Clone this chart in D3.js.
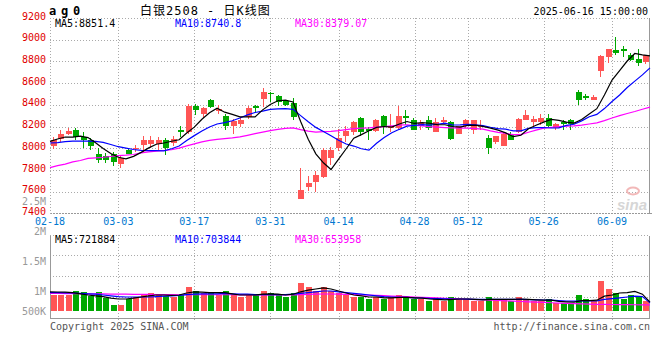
<!DOCTYPE html>
<html>
<head>
<meta charset="utf-8">
<script src="https://cdn.jsdelivr.net/npm/d3@7"></script>
<style>
  body { margin: 0; background: #fff; }
  svg { display: block; font-family: "DejaVu Sans Mono", monospace; }
</style>
</head>
<body>
<div id="chart"></div>
<script>
// trading days shown on the chart (MM-DD)
const dates = [
  '02-18','02-19','02-20','02-21','02-24','02-25','02-26','02-27','02-28',
  '03-03','03-04','03-05','03-06','03-07','03-10','03-11','03-12','03-13','03-14',
  '03-17','03-18','03-19','03-20','03-21','03-24','03-25','03-26','03-27','03-28','03-31',
  '04-01','04-02','04-03','04-07','04-08','04-09','04-10','04-11','04-14','04-15','04-16',
  '04-17','04-18','04-21','04-22','04-23','04-24','04-25','04-28','04-29','04-30',
  '05-06','05-07','05-08','05-09','05-12','05-13','05-14','05-15','05-16','05-19','05-20',
  '05-21','05-22','05-23','05-26','05-27','05-28','05-29','05-30',
  '06-03','06-04','06-05','06-06','06-09','06-10','06-11','06-12','06-13','06-16'
];

const open = [
  8018,8086,8135,8171,8104,8080,7951,7926,7945,7853,7982,7994,8031,8037,8043,8080,
  8049,8165,8147,8392,8312,8441,8343,8300,8202,8226,8288,8392,8453,8508,8478,8435,
  8416,7535,7645,7688,7737,7908,8006,8110,8153,8275,8178,8159,8294,8184,8190,8300,
  8263,8208,8263,8153,8239,8239,8135,8202,8165,8196,8098,8055,8018,8129,8153,8263,
  8239,8245,8282,8184,8245,8257,8520,8484,8447,8710,8845,8906,8918,8863,8827,8796
];
const high = [
  8104,8165,8184,8190,8147,8098,8000,7957,7969,7933,7994,8030,8110,8110,8104,8092,
  8110,8202,8410,8410,8377,8453,8398,8312,8269,8288,8386,8398,8551,8520,8490,8447,
  8465,7822,7749,7792,8006,8012,8178,8202,8251,8288,8196,8269,8306,8318,8386,8355,
  8275,8263,8300,8275,8288,8251,8208,8269,8263,8257,8122,8116,8147,8147,8276,8349,
  8294,8312,8318,8233,8257,8269,8533,8502,8490,8857,8918,9029,8943,8876,8918,8863
];
const low = [
  7994,8055,8122,8080,8006,7982,7865,7865,7841,7816,7945,7963,7969,8006,7988,7939,
  8018,8104,8128,8306,8275,8373,8312,8165,8135,8196,8269,8324,8380,8429,8386,8386,
  8257,7535,7608,7596,7730,7847,7975,8061,8122,8110,8073,8153,8135,8153,8171,8214,
  8165,8171,8171,8153,8227,8080,8129,8184,8129,8165,7945,8043,8018,8073,8141,8257,
  8202,8214,8196,8171,8165,8171,8398,8447,8447,8661,8790,8857,8845,8802,8759,8777
];
const close = [
  8080,8135,8159,8104,8080,8018,7896,7896,7871,7908,7951,8006,8080,8074,8080,8006,
  8086,8147,8386,8349,8373,8380,8361,8202,8251,8257,8373,8367,8520,8502,8429,8398,
  8288,7620,7682,7755,7988,7982,8098,8159,8239,8153,8159,8257,8196,8208,8300,8275,
  8165,8233,8184,8239,8263,8086,8202,8263,8257,8202,8006,8110,8135,8080,8269,8306,
  8269,8282,8208,8226,8220,8227,8447,8459,8471,8851,8918,8882,8900,8814,8790,8857
];

// moving averages as plotted
const ma5 = [
  8064,8086,8104,8104,8112,8099,8051,7999,7952,7918,7904,7926,7963,8004,8038,8049,
  8065,8079,8141,8195,8268,8327,8370,8333,8313,8290,8289,8290,8354,8404,8438,8443,
  8427,8247,8083,7949,7867,7805,7901,7996,8093,8126,8162,8193,8201,8195,8224,8247,
  8229,8236,8231,8219,8217,8201,8195,8211,8214,8202,8186,8168,8142,8107,8120,8180,
  8212,8241,8267,8258,8241,8233,8266,8316,8365,8491,8629,8716,8804,8873,8861,8851.4
];
const ma10 = [
  8049,8052,8061,8067,8067,8067,8064,8055,8035,8015,8002,7989,7981,7978,7978,7977,
  7996,8021,8072,8117,8159,8196,8224,8237,8254,8279,8308,8330,8343,8359,8364,8366,
  8359,8301,8244,8193,8155,8116,8074,8040,8021,7996,7984,8047,8099,8144,8175,8204,
  8211,8219,8213,8222,8232,8215,8216,8221,8217,8209,8194,8181,8176,8160,8161,8183,
  8190,8192,8187,8189,8211,8222,8253,8291,8312,8366,8431,8491,8560,8619,8676,8740.8
];
const ma30 = [
  7822,7841,7855,7875,7888,7908,7913,7918,7925,7933,7937,7943,7958,7967,7974,7980,
  7987,8002,8022,8041,8060,8074,8082,8089,8096,8105,8120,8135,8150,8163,8175,8184,
  8188,8172,8159,8150,8153,8156,8163,8172,8181,8186,8189,8195,8199,8206,8213,8217,
  8210,8206,8199,8195,8191,8188,8186,8186,8182,8177,8160,8147,8137,8126,8126,8148,
  8168,8186,8193,8201,8205,8207,8214,8224,8235,8255,8279,8301,8321,8339,8360,8379.07
];

// volume (lots) and its averages
const volume = [
  900000,900000,900000,1000000,970000,870000,970000,830000,650000,650000,800000,850000,
  900000,950000,900000,880000,850000,900000,1100000,1000000,950000,950000,900000,1000000,
  900000,850000,900000,900000,1000000,950000,900000,850000,950000,1200000,1100000,1000000,
  1100000,1000000,950000,900000,850000,850000,800000,850000,800000,850000,900000,850000,
  800000,800000,750000,800000,750000,850000,800000,800000,750000,750000,850000,800000,
  800000,750000,850000,800000,750000,750000,800000,700000,700000,700000,900000,800000,
  750000,1250000,1050000,950000,800000,900000,850000,750000
];
const volMa5 = [
  980000,975000,970000,960000,930000,900000,880000,860000,820000,800000,800000,820000,
  850000,880000,900000,900000,890000,900000,950000,980000,970000,960000,960000,960000,
  930000,900000,900000,900000,920000,930000,920000,900000,920000,980000,1020000,1050000,
  1080000,1050000,1000000,950000,900000,880000,850000,850000,830000,830000,840000,840000,
  830000,820000,800000,790000,780000,790000,800000,800000,790000,780000,790000,790000,
  790000,790000,800000,790000,780000,770000,770000,740000,730000,720000,760000,760000,
  770000,870000,900000,950000,960000,990000,920000,721884
];
const volMa10 = [
  960000,960000,955000,950000,940000,930000,920000,900000,880000,860000,850000,850000,
  850000,850000,860000,870000,880000,890000,910000,920000,930000,930000,930000,940000,
  930000,920000,920000,910000,910000,910000,910000,910000,920000,940000,960000,980000,
  1000000,1000000,980000,960000,940000,920000,900000,880000,860000,850000,840000,840000,
  830000,825000,815000,810000,805000,800000,800000,795000,790000,790000,790000,790000,
  790000,790000,790000,785000,780000,775000,770000,760000,750000,745000,750000,750000,
  755000,790000,810000,830000,850000,870000,860000,703844
];
const volMa30 = [
  940000,938000,936000,934000,932000,930000,928000,926000,924000,922000,920000,918000,
  916000,914000,912000,910000,908000,906000,906000,906000,906000,906000,906000,906000,
  906000,905000,904000,903000,902000,902000,902000,902000,904000,910000,915000,920000,
  925000,925000,922000,918000,912000,905000,898000,890000,882000,874000,866000,858000,
  850000,842000,834000,826000,818000,810000,802000,794000,786000,778000,770000,762000,
  754000,746000,738000,730000,722000,714000,706000,698000,690000,682000,676000,670000,
  666000,664000,662000,660000,658000,656000,655000,653958
];

const priceTicks = [9200, 9000, 8800, 8600, 8400, 8200, 8000, 7800, 7600, 7400];
const dateTicks = ['02-18', '03-03', '03-17', '03-31', '04-14', '04-28', '05-12', '05-26', '06-09'];
const volTicks = [2500000, 2000000, 1500000, 1000000, 500000];
const volTickLabels = ['2.5M', '2M', '1.5M', '1M', '500K'];

const UP = '#ff5555', DOWN = '#00a800';
const GRID = '#aaa';

class KChart {

  constructor(opts) {
    this.element = opts.element;
    this.n = dates.length;
    this.draw();
  }

  draw() {
    this.width = 660;
    this.height = 360;
    // plot frame, price pane + volume pane
    this.left = 50;
    this.right = 650;
    this.pTop = 18;
    this.pBottom = 213.5;
    this.vTop = 234.5;
    this.vBottom = 318;
    this.vBase = 311;

    this.element.innerHTML = '';
    this.svg = d3.select(this.element).append('svg')
      .attr('width', this.width)
      .attr('height', this.height);

    this.createScales();
    this.addGrid();
    this.addCandles();
    this.addLines();
    this.addVolume();
    this.addText();
  }

  createScales() {
    const idx = d3.range(this.n);
    // candles sit in bands, grid and average lines use evenly spaced points
    this.xBand = d3.scaleBand()
      .domain(idx)
      .range([this.left - 0.5, this.right - 0.5])
      .paddingInner(0.25)
      .paddingOuter(0.125);
    this.xPoint = d3.scalePoint()
      .domain(idx)
      .range([this.left, this.right]);

    this.yPrice = d3.scaleLinear()
      .domain([7400, 9200])
      .range([this.pBottom, this.pTop]);

    this.yVol = d3.scaleLinear()
      .domain([500000, 1000000])
      .range([this.vBase, 291]);

    // where sina puts the volume tick labels (bottom one is pinned)
    this.yVolLabel = d3.scaleLinear()
      .domain([500000, 1000000, 2500000])
      .range([311, 291, 201]);
  }

  addGrid() {
    const g = this.svg.append('g').attr('class', 'grid')
      .attr('fill', 'none')
      .attr('stroke', GRID)
      .attr('shape-rendering', 'crispEdges');

    const px = i => Math.round(this.xPoint(i)) + 0.5;
    const tickIdx = dateTicks.map(d => dates.indexOf(d));

    // horizontal price lines
    g.selectAll('.hp')
      .data(priceTicks.slice(1, -1))
      .enter().append('line')
        .attr('x1', this.left).attr('x2', this.right)
        .attr('y1', d => Math.round(this.yPrice(d)) + 0.5)
        .attr('y2', d => Math.round(this.yPrice(d)) + 0.5)
        .attr('stroke-dasharray', '1,2');

    // vertical date lines, both panes
    g.selectAll('.vp')
      .data(tickIdx.slice(1))
      .enter().append('line')
        .attr('x1', px).attr('x2', px)
        .attr('y1', this.pTop).attr('y2', this.pBottom + 3)
        .attr('stroke-dasharray', '1,2');
    g.selectAll('.vv')
      .data(tickIdx.slice(1))
      .enter().append('line')
        .attr('x1', px).attr('x2', px)
        .attr('y1', this.vTop).attr('y2', this.vBottom + 4)
        .attr('stroke-dasharray', '1,2');

    // volume pane horizontal lines (quarters)
    const q = (this.vBottom - this.vTop) / 4;
    g.selectAll('.hv')
      .data([1, 2, 3])
      .enter().append('line')
        .attr('x1', this.left).attr('x2', this.right)
        .attr('y1', d => Math.round(this.vTop + d * q) + 0.5)
        .attr('y2', d => Math.round(this.vTop + d * q) + 0.5)
        .attr('stroke-dasharray', '1,2');

    // frames
    const top = Math.round(this.pTop) + 0.5;
    const bot = Math.floor(this.pBottom) + 0.5;
    g.append('line').attr('x1', this.left).attr('x2', this.right)
      .attr('y1', top).attr('y2', top).attr('stroke-dasharray', '1,2');
    g.append('line').attr('x1', this.left).attr('x2', this.right + 2)
      .attr('y1', bot).attr('y2', bot)
      .attr('stroke', '#999').attr('stroke-width', 1.5).attr('stroke-dasharray', '2,1');
    g.append('line').attr('x1', this.left + 0.5).attr('x2', this.left + 0.5)
      .attr('y1', this.pTop).attr('y2', this.pBottom).attr('stroke-dasharray', '1,2');
    g.append('line').attr('x1', this.right - 0.5).attr('x2', this.right - 0.5)
      .attr('y1', this.pTop).attr('y2', this.pBottom).attr('stroke', '#999');

    const vt = Math.round(this.vTop) + 0.5;
    g.append('line').attr('x1', this.left).attr('x2', this.right)
      .attr('y1', vt).attr('y2', vt).attr('stroke-dasharray', '1,2');
    g.append('rect')
      .attr('x', this.left + 0.5).attr('y', vt)
      .attr('width', this.right - this.left - 1)
      .attr('height', this.vBottom - vt)
      .attr('stroke', '#999')
      .attr('stroke-dasharray', `0,${this.right - this.left - 1},1000`);
  }

  addCandles() {
    const g = this.svg.append('g').attr('class', 'candles')
      .attr('shape-rendering', 'crispEdges');
    const bw = this.xBand.bandwidth();
    const color = i => close[i] >= open[i] ? UP : DOWN;
    const cx = i => Math.floor(this.xBand(i) + bw / 2) + 0.5;

    const c = g.selectAll('.candle')
      .data(d3.range(this.n))
      .enter().append('g')
        .attr('class', 'candle');

    c.append('line')
      .attr('x1', cx).attr('x2', cx)
      .attr('y1', i => this.yPrice(high[i]))
      .attr('y2', i => this.yPrice(low[i]))
      .attr('stroke', color);

    c.append('rect')
      .attr('x', i => cx(i) - 3)
      .attr('width', 6)
      .attr('y', i => this.yPrice(Math.max(open[i], close[i])))
      .attr('height', i => Math.max(1, Math.abs(this.yPrice(open[i]) - this.yPrice(close[i]))))
      .attr('fill', color);
  }

  addLines() {
    const g = this.svg.append('g').attr('class', 'ma').attr('fill', 'none');
    const line = d3.line()
      .x((d, i) => this.xPoint(i))
      .y(d => this.yPrice(d));
    [[ma30, '#ff00ff'], [ma10, '#0000ff'], [ma5, '#000']].forEach(([s, col]) => {
      g.append('path').attr('d', line(s)).attr('stroke', col).attr('stroke-width', 1.2);
    });
  }

  addVolume() {
    const g = this.svg.append('g').attr('class', 'vol')
      .attr('shape-rendering', 'crispEdges');
    const bw = this.xBand.bandwidth();
    const cx = i => Math.floor(this.xBand(i) + bw / 2) + 0.5;

    g.selectAll('rect')
      .data(d3.range(this.n))
      .enter().append('rect')
        .attr('x', i => cx(i) - 3)
        .attr('width', 6)
        .attr('y', i => this.yVol(volume[i]))
        .attr('height', i => this.vBase - this.yVol(volume[i]))
        .attr('fill', i => close[i] >= open[i] ? UP : DOWN);

    const line = d3.line()
      .x((d, i) => this.xPoint(i))
      .y(d => this.yVol(d));
    const lg = this.svg.append('g').attr('fill', 'none');
    [[volMa30, '#ff00ff'], [volMa10, '#0000ff'], [volMa5, '#000']].forEach(([s, col]) => {
      lg.append('path').attr('d', line(s)).attr('stroke', col).attr('stroke-width', 1.2);
    });
  }

  addText() {
    const t = this.svg.append('g').attr('font-size', '10px');

    // price axis
    t.selectAll('.pl')
      .data(priceTicks)
      .enter().append('text')
        .attr('x', 46)
        .attr('y', d => this.yPrice(d) + 1.5)
        .attr('text-anchor', 'end')
        .attr('fill', '#e00000')
        .text(d => d);

    // volume axis
    t.selectAll('.vl')
      .data(volTicks)
      .enter().append('text')
        .attr('x', 46)
        .attr('y', d => this.yVolLabel(d) + 3.5)
        .attr('text-anchor', 'end')
        .attr('fill', '#999')
        .text((d, i) => volTickLabels[i]);

    // dates
    t.selectAll('.dl')
      .data(dateTicks)
      .enter().append('text')
        .attr('x', d => this.xPoint(dates.indexOf(d)))
        .attr('y', 225)
        .attr('text-anchor', 'middle')
        .attr('fill', '#0078d0')
        .text(d => d);

    // legends
    const legend = (y, vals) => {
      const cols = ['#000', '#0000ff', '#ff00ff'];
      const xs = [55, 175, 295];
      ['MA5', 'MA10', 'MA30'].forEach((k, i) => {
        t.append('text').attr('x', xs[i]).attr('y', y)
          .attr('fill', cols[i]).text(`${k}:${vals[i]}`);
      });
    };
    legend(27, [ma5[this.n - 1], ma10[this.n - 1], ma30[this.n - 1]]);
    legend(243, [volMa5[this.n - 1], volMa10[this.n - 1], volMa30[this.n - 1]]);

    // header
    this.svg.append('text')
      .attr('x', 49).attr('y', 15)
      .attr('font-size', '12px').attr('font-weight', 'bold')
      .attr('letter-spacing', '4.8px')
      .text('ag0');
    this.svg.append('text')
      .attr('x', 140).attr('y', 15)
      .attr('font-size', '12px')
      .attr('letter-spacing', '1px')
      .style('font-family', '"DejaVu Sans Mono", "Noto Sans CJK SC", monospace')
      .text('白银2508 - 日K线图');
    this.svg.append('text')
      .attr('x', 648).attr('y', 15)
      .attr('font-size', '10px')
      .attr('text-anchor', 'end')
      .text('2025-06-16 15:00:00');

    // footer
    t.append('text').attr('x', 50).attr('y', 330).attr('fill', '#555')
      .text('Copyright 2025 SINA.COM');
    t.append('text').attr('x', 650).attr('y', 330).attr('fill', '#555')
      .attr('text-anchor', 'end')
      .text('http://finance.sina.com.cn');

    // faint sina watermark
    this.svg.append('ellipse')
      .attr('cx', 633).attr('cy', 191).attr('rx', 6).attr('ry', 3.5)
      .attr('fill', 'none').attr('stroke', '#f2b8b8').attr('stroke-width', 2);
    this.svg.append('text')
      .attr('x', 647).attr('y', 210)
      .attr('text-anchor', 'end')
      .attr('font-size', '15px').attr('font-weight', 'bold').attr('font-style', 'italic')
      .style('font-family', '"Liberation Sans", Arial, sans-serif')
      .attr('fill', '#d6d6d6')
      .text('sina');
  }
}

new KChart({ element: document.getElementById('chart') });
</script>
</body>
</html>
